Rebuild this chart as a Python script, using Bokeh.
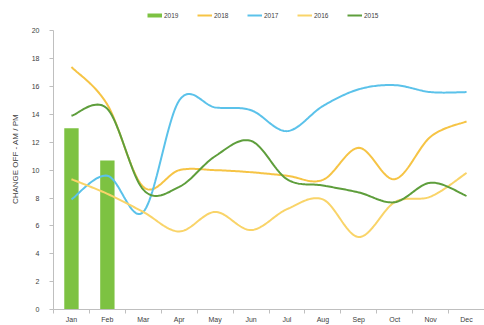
from bokeh.plotting import figure
from bokeh.models import Range1d, FixedTicker, Legend, LegendItem
from bokeh.embed import file_html
from bokeh.resources import INLINE

months = ["Jan", "Feb", "Mar", "Apr", "May", "Jun", "Jul", "Aug", "Sep", "Oct", "Nov", "Dec"]
v2019 = [13.0, 10.7]
v2018 = [17.4, 14.7, 8.8, 10.0, 10.0, 9.85, 9.6, 9.3, 11.6, 9.35, 12.4, 13.5]
v2017 = [7.9, 9.6, 7.0, 15.0, 14.5, 14.3, 12.8, 14.6, 15.8, 16.1, 15.6, 15.6]
v2016 = [9.35, 8.3, 7.0, 5.6, 7.0, 5.7, 7.2, 7.9, 5.2, 7.7, 8.1, 9.8]
v2015 = [13.9, 14.4, 8.6, 8.8, 11.0, 12.1, 9.35, 8.9, 8.4, 7.7, 9.1, 8.15]
yticks = [0, 2, 4, 6, 8, 10, 12, 14, 16, 18, 20]

FONT = "Liberation Sans"
C2019 = "#7DC242"
C2018 = "#F6C445"
C2017 = "#5BC2EA"
C2016 = "#F9D469"
C2015 = "#5E9E3C"


def smooth(ys, n=24):
    xs = [i + 0.5 for i in range(len(ys))]
    pts = list(zip(xs, ys))
    ox, oy = [], []
    for i in range(len(pts) - 1):
        p0 = pts[i - 1] if i > 0 else pts[i]
        p1 = pts[i]
        p2 = pts[i + 1]
        p3 = pts[i + 2] if i + 2 < len(pts) else pts[i + 1]
        c1 = (p1[0] + (p2[0] - p0[0]) / 6, p1[1] + (p2[1] - p0[1]) / 6)
        c2 = (p2[0] - (p3[0] - p1[0]) / 6, p2[1] - (p3[1] - p1[1]) / 6)
        for k in range(n + (1 if i == len(pts) - 2 else 0)):
            t = k / n
            a = (1 - t) ** 3
            b = 3 * (1 - t) ** 2 * t
            c = 3 * (1 - t) * t ** 2
            d = t ** 3
            ox.append(a * p1[0] + b * c1[0] + c * c2[0] + d * p2[0])
            oy.append(a * p1[1] + b * c1[1] + c * c2[1] + d * p2[1])
    return ox, oy


p = figure(width=484, height=325, output_backend="svg", toolbar_location=None,
           x_range=Range1d(0, 12), y_range=Range1d(0, 21.6),
           min_border_left=53, min_border_right=0, min_border_top=8, min_border_bottom=0)
p.outline_line_color = None
p.xgrid.grid_line_color = None
p.ygrid.grid_line_color = None
p.background_fill_color = "white"

bar = p.vbar(x=[i + 0.5 for i in range(len(v2019))], top=v2019, width=0.4,
             color=C2019, line_color=None)

lines = []
for vals, col in [(v2018, C2018), (v2017, C2017), (v2016, C2016), (v2015, C2015)]:
    sx, sy = smooth(vals)
    lines.append(p.line(sx, sy, line_color=col, line_width=2))

# legend proxy for 2019 drawn as a line key
leg2019 = p.line([-5, -4], [-5, -4], line_color=C2019, line_width=4)

legend = Legend(items=[
    LegendItem(label="2019", renderers=[leg2019]),
    LegendItem(label="2018", renderers=[lines[0]]),
    LegendItem(label="2017", renderers=[lines[1]]),
    LegendItem(label="2016", renderers=[lines[2]]),
    LegendItem(label="2015", renderers=[lines[3]]),
], orientation="horizontal", location=(94, 290))
legend.label_text_font = FONT
legend.label_text_font_size = "6.5px"
legend.label_text_color = "#404040"
legend.glyph_width = 15
legend.glyph_height = 8
legend.label_standoff = 2
legend.spacing = 13
legend.padding = 2
legend.margin = 0
legend.border_line_color = None
legend.background_fill_alpha = 0
p.add_layout(legend)

p.xaxis.ticker = FixedTicker(ticks=[i + 0.5 for i in range(12)],
                             minor_ticks=list(range(13)))
p.xaxis.major_label_overrides = {i + 0.5: m for i, m in enumerate(months)}
p.xaxis.major_tick_out = 0
p.xaxis.major_tick_in = 0
p.xaxis.minor_tick_out = 4
p.xaxis.minor_tick_in = 0
p.xaxis.minor_tick_line_color = "#BFBFBF"
p.xaxis.axis_line_color = "#BFBFBF"
p.xaxis.major_label_text_font = FONT
p.xaxis.major_label_text_font_size = "7px"
p.xaxis.major_label_text_color = "#404040"
p.xaxis.major_label_standoff = 2

p.yaxis.bounds = (0, 20)
p.yaxis.ticker = FixedTicker(ticks=yticks, minor_ticks=[])
p.yaxis.axis_label = "CHANGE OFF - AM / PM"
p.yaxis.axis_label_text_font = FONT
p.yaxis.axis_label_text_font_size = "8px"
p.yaxis.axis_label_text_font_style = "normal"
p.yaxis.axis_label_text_color = "#404040"
p.yaxis.axis_label_standoff = 9
p.yaxis.axis_line_color = "#BFBFBF"
p.yaxis.major_tick_line_color = "#BFBFBF"
p.yaxis.major_tick_out = 4
p.yaxis.major_tick_in = 0
p.yaxis.minor_tick_line_color = None
p.yaxis.major_label_text_font = FONT
p.yaxis.major_label_text_font_size = "7px"
p.yaxis.major_label_text_color = "#404040"
p.yaxis.major_label_standoff = 10

open("out.html", "w").write(file_html(p, INLINE))
